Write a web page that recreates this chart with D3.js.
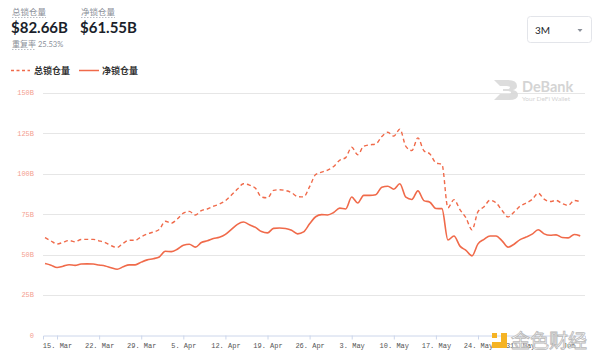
<!DOCTYPE html>
<html>
<head>
<meta charset="utf-8">
<title>DeBank TVL</title>
<script src="https://d3js.org/d3.v7.min.js"></script>
<style>
  body { margin: 0; padding: 0; background: #fff; }
  text { font-family: Lato, "Noto Sans CJK SC", sans-serif; }
  .cjk { font-family: "Noto Sans CJK SC", sans-serif; }
  .mono { font-family: "Liberation Mono", "DejaVu Sans Mono", monospace; }
</style>
</head>
<body>
<svg id="svg" width="600" height="364"></svg>
<script>
// daily points starting 2021-03-13
const startDay = "2021-03-13";

const totalTvl = [
  60.5, 58.4, 56.5, 57.6, 58.7, 57.9, 59.3, 59.4, 59.4, 58.5,
  57.4, 55.5, 54.4, 57.0, 58.8, 58.8, 61.0, 62.7, 63.9, 65.5,
  70.6, 69.4, 72.0, 75.6, 76.7, 74.5, 77.2, 78.2, 79.9, 81.2,
  83.3, 86.8, 90.5, 93.8, 93.0, 91.0, 85.6, 85.1, 89.7, 90.1,
  89.6, 88.3, 85.9, 85.7, 92.0, 99.5, 101.0, 102.3, 104.5, 108.4,
  110.0, 116.4, 111.8, 117.1, 117.9, 118.4, 123.0, 125.7, 123.3, 127.6,
  117.0, 114.4, 122.2, 114.3, 112.3, 106.8, 105.8, 79.0, 84.0, 77.8,
  72.7, 65.3, 76.5, 79.6, 83.6, 82.0, 77.3, 73.3, 76.3, 80.0,
  81.9, 84.1, 88.0, 84.3, 82.8, 83.5, 81.5, 80.4, 83.5, 82.66
];

const netTvl = [
  44.4, 43.4, 42.0, 42.8, 43.7, 43.3, 44.1, 44.2, 44.1, 43.5,
  42.9, 41.8, 40.9, 42.4, 43.6, 43.6, 45.3, 46.7, 47.4, 48.5,
  52.0, 51.8, 53.3, 55.7, 56.4, 54.6, 57.4, 58.5, 59.9, 60.7,
  62.5, 65.6, 68.7, 70.1, 68.4, 66.8, 64.2, 63.4, 66.2, 66.4,
  66.1, 65.0, 62.8, 64.0, 69.0, 73.4, 74.7, 74.5, 76.0, 78.7,
  78.2, 85.6, 81.9, 86.6, 86.6, 87.0, 91.7, 92.3, 90.4, 93.8,
  85.5, 84.1, 89.4, 83.4, 82.4, 78.5, 78.4, 59.0, 61.5, 55.2,
  52.6, 49.2, 56.6, 59.4, 61.5, 61.5, 58.5, 54.6, 56.4, 59.2,
  60.8, 62.6, 65.3, 62.8, 61.9, 62.2, 60.5, 60.3, 62.4, 61.55
];

const yTicks = [0, 25, 50, 75, 100, 125, 150];
const seriesNames = ["总锁仓量", "净锁仓量"];
const headline = { total: "$82.66B", net: "$61.55B", dupLabel: "重复率", dupRate: "25.53%" };

const lineColor = "#f06a4a";

const svg = d3.select("#svg");
const parse = d3.timeParse("%Y-%m-%d");
const day0 = parse(startDay);
const dates = totalTvl.map((_, i) => d3.timeDay.offset(day0, i));

// plot frame
const x = d3.scaleTime()
  .domain([new Date(2021, 2, 12, 16), new Date(2021, 5, 10, 19)])
  .range([43, 585]);
const y = d3.scaleLinear().domain([0, 150]).range([335.3, 93]);

// grid lines
svg.append("g")
  .selectAll("line")
  .data(yTicks.filter(d => d > 0))
  .join("line")
    .attr("x1", 43).attr("x2", 585)
    .attr("y1", d => Math.round(y(d)) + 0.5)
    .attr("y2", d => Math.round(y(d)) + 0.5)
    .attr("stroke", "#e6e6e6");

// y labels
svg.append("g")
  .selectAll("text")
  .data(yTicks)
  .join("text")
    .attr("class", "mono")
    .attr("x", 34)
    .attr("y", d => y(d))
    .attr("dy", "0.35em")
    .attr("text-anchor", "end")
    .attr("fill", "#f4a08f")
    .attr("font-size", 7)
    .text(d => d === 0 ? "0" : d + "B");

// x axis
const xAxis = svg.append("g")
  .attr("transform", `translate(0,${Math.round(y(0)) + 0.5})`)
  .call(d3.axisBottom(x)
    .ticks(d3.timeMonday.every(1))
    .tickFormat(d3.timeFormat("%-d. %b"))
    .tickSize(4)
    .tickPadding(4));
xAxis.select(".domain").attr("stroke", "#ccd6eb");
xAxis.selectAll(".tick line").attr("stroke", "#ccd6eb");
xAxis.selectAll(".tick text")
  .attr("class", "mono")
  .attr("fill", "#555")
  .attr("font-size", 7);

// lines
const line = d3.line()
  .x((d, i) => x(dates[i]))
  .y(d => y(d))
  .curve(d3.curveMonotoneX);

svg.append("path")
  .datum(totalTvl)
  .attr("d", line)
  .attr("fill", "none")
  .attr("stroke", lineColor)
  .attr("stroke-width", 1.4)
  .attr("stroke-dasharray", "4,3");

svg.append("path")
  .datum(netTvl)
  .attr("d", line)
  .attr("fill", "none")
  .attr("stroke", lineColor)
  .attr("stroke-width", 1.6);

// header
const head = svg.append("g");
head.append("text").attr("class", "cjk").attr("x", 12).attr("y", 15)
  .attr("font-size", 8.5).attr("fill", "#8a8f99").text(seriesNames[0]);
head.append("line").attr("x1", 12).attr("x2", 46).attr("y1", 17.5).attr("y2", 17.5)
  .attr("stroke", "#b9bdc5").attr("stroke-dasharray", "1.5,1.5");
head.append("text").attr("x", 11).attr("y", 33)
  .attr("font-size", 15).attr("font-weight", 700).attr("fill", "#1b1f2b").text(headline.total);

head.append("text").attr("class", "cjk").attr("x", 81).attr("y", 15)
  .attr("font-size", 8.5).attr("fill", "#8a8f99").text(seriesNames[1]);
head.append("line").attr("x1", 81).attr("x2", 115).attr("y1", 17.5).attr("y2", 17.5)
  .attr("stroke", "#b9bdc5").attr("stroke-dasharray", "1.5,1.5");
head.append("text").attr("x", 80).attr("y", 33)
  .attr("font-size", 15).attr("font-weight", 700).attr("fill", "#1b1f2b").text(headline.net);

head.append("text").attr("class", "cjk").attr("x", 12).attr("y", 47)
  .attr("font-size", 8).attr("fill", "#8a8f99").text(headline.dupLabel);
head.append("line").attr("x1", 12).attr("x2", 35).attr("y1", 49.5).attr("y2", 49.5)
  .attr("stroke", "#b9bdc5").attr("stroke-dasharray", "1.5,1.5");
head.append("text").attr("x", 38).attr("y", 47)
  .attr("font-size", 7.5).attr("fill", "#8a8f99").text(headline.dupRate);

// dropdown
const dd = svg.append("g");
dd.append("rect").attr("x", 527.5).attr("y", 16.5).attr("width", 64).attr("height", 26)
  .attr("rx", 3).attr("fill", "#fff").attr("stroke", "#e3e5ea");
dd.append("text").attr("x", 535).attr("y", 33.5).attr("font-size", 10)
  .attr("fill", "#1b1f2b").text("3M");
dd.append("path").attr("d", "M577.5,29 L582.5,29 L580,32 Z").attr("fill", "#8a8f99");

// legend
const lg = svg.append("g");
lg.append("line").attr("x1", 11).attr("x2", 30).attr("y1", 70.5).attr("y2", 70.5)
  .attr("stroke", lineColor).attr("stroke-width", 1.4).attr("stroke-dasharray", "3,2.5");
lg.append("text").attr("class", "cjk").attr("x", 34).attr("y", 74)
  .attr("font-size", 9).attr("font-weight", 700).attr("fill", "#333").text(seriesNames[0]);
lg.append("line").attr("x1", 79).attr("x2", 99).attr("y1", 70.5).attr("y2", 70.5)
  .attr("stroke", lineColor).attr("stroke-width", 1.5);
lg.append("text").attr("class", "cjk").attr("x", 102).attr("y", 74)
  .attr("font-size", 9).attr("font-weight", 700).attr("fill", "#333").text(seriesNames[1]);

// DeBank watermark
const wm = svg.append("g").attr("opacity", 0.9);
wm.append("path")
  .attr("d", "M494,80 L508,80 Q517,80 517,86 Q517,89 513,90 Q518,91 518,95 Q518,100 509,100 L494,100 L500,94 L508,94 Q511,94 511,92.5 Q511,91 508,91 L503,91 L503,89 L507,89 Q510,89 510,87.5 Q510,86 507,86 L500,86 Z")
  .attr("fill", "#d9d9d9");
wm.append("text").attr("x", 522).attr("y", 92).attr("font-size", 14.5).attr("font-weight", 700)
  .attr("fill", "#d0d0d0").text("DeBank");
wm.append("text").attr("x", 522).attr("y", 101).attr("font-size", 6.5)
  .attr("fill", "#cfcfcf").text("Your DeFi Wallet");

// 金色财经 watermark
const jw = svg.append("g");
jw.append("rect").attr("x", 492).attr("y", 333).attr("width", 5).attr("height", 5).attr("fill", "#f5b324");
jw.append("path").attr("d", "M501,333 L507,333 L507,348 L492,348 L492,342 L501,342 Z").attr("fill", "#f5b324");
jw.append("text").attr("class", "cjk").attr("x", 511).attr("y", 348)
  .attr("font-size", 19).attr("fill", "#ffffff").attr("stroke", "#b8b8b8").attr("stroke-width", 0.8)
  .text("金色财经");
</script>
</body>
</html>
